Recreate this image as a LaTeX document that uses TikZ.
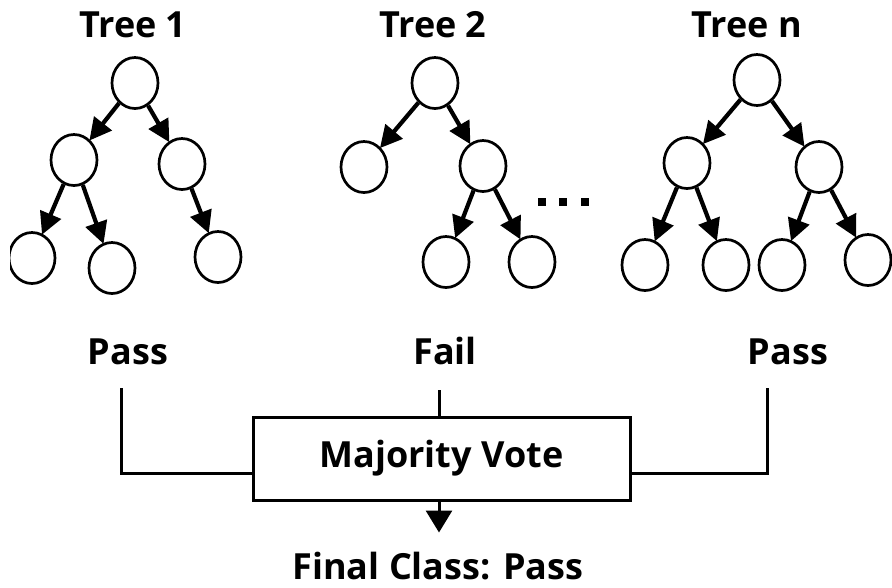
\documentclass[tikz,border=0pt]{standalone}
\usepackage{fontspec}
\setmainfont{Open Sans}
\usetikzlibrary{arrows.meta,shapes.geometric}
\begin{document}
\begin{tikzpicture}[x=1pt,y=-1pt,
  nd/.style={ellipse,draw,line width=2.7pt,minimum width=46pt,minimum height=51pt,inner sep=0pt},
  edge/.style={line width=4.2pt,-{Triangle[length=22pt,width=22pt]},shorten >=-1pt},
  lbl/.style={font=\bfseries\fontsize{36}{39}\selectfont,inner sep=0pt},
  ln/.style={line width=3pt}]
\useasboundingbox (0,0) rectangle (892,587);
% Tree 1
\node[lbl] (T1) at (133,25) {Tree 1};
\node[nd] (t1r) at (135,83) {};
\node[nd] (t1a) at (74,160) {};
\node[nd] (t1b) at (182,164) {};
\begin{scope}
\clip (10,0) rectangle (892,587);
\node[nd] (t1aa) at (32,258) {};
\end{scope}
\node[nd] (t1ab) at (112,268) {};
\node[nd] (t1ba) at (218,257) {};
\draw[edge] (t1r) -- (t1a);
\draw[edge] (t1r) -- (t1b);
\draw[edge] (t1a) -- (t1aa);
\draw[edge] (t1a) -- (t1ab);
\draw[edge] (t1b) -- (t1ba);
% Tree 2
\node[lbl] (T2) at (433,25) {Tree 2};
\node[nd] (t2r) at (435,83) {};
\node[nd] (t2a) at (364,167) {};
\node[nd] (t2b) at (483,166) {};
\node[nd] (t2ba) at (446,262) {};
\node[nd] (t2bb) at (532,262) {};
\draw[edge] (t2r) -- (t2a);
\draw[edge] (t2r) -- (t2b);
\draw[edge] (t2b) -- (t2ba);
\draw[edge] (t2b) -- (t2bb);
\foreach \x in {542,563,585} \fill (\x-4,198) rectangle (\x+4,206);
% Tree n
\node[lbl] (Tn) at (747,25) {Tree n};
\node[nd] (tnr) at (757,80) {};
\node[nd] (tna) at (687,163) {};
\node[nd] (tnb) at (819,167) {};
\node[nd] (tnaa) at (645,265) {};
\node[nd] (tnab) at (726,265) {};
\node[nd] (tnba) at (782,265) {};
\node[nd] (tnbb) at (868,260) {};
\draw[edge] (tnr) -- (tna);
\draw[edge] (tnr) -- (tnb);
\draw[edge] (tna) -- (tnaa);
\draw[edge] (tna) -- (tnab);
\draw[edge] (tnb) -- (tnba);
\draw[edge] (tnb) -- (tnbb);
% votes
\node[lbl] (p1) at (128,352) {Pass};
\node[lbl] (f2) at (445,351) {Fail};
\node[lbl] (pn) at (788,352) {Pass};
\node[draw,line width=3pt,minimum width=377pt,minimum height=83pt,inner sep=0pt,
  font=\bfseries\fontsize{36}{39}\selectfont] (mv) at (441.5,458.5) {Majority Vote};
\draw[ln] (121,388) |- ([yshift=-15pt]mv.west);
\draw[ln] (767,388) |- ([yshift=-15pt]mv.east);
\draw[ln] ([xshift=-2.5pt]mv.north) -- ++(0,-26);
\draw[ln,-{Triangle[length=22pt,width=26pt]}] ([xshift=-2.5pt]mv.south) -- ++(0,31);
\node[lbl] (fc) at (438,566) {Final Class: Pass};
\end{tikzpicture}
\end{document}
